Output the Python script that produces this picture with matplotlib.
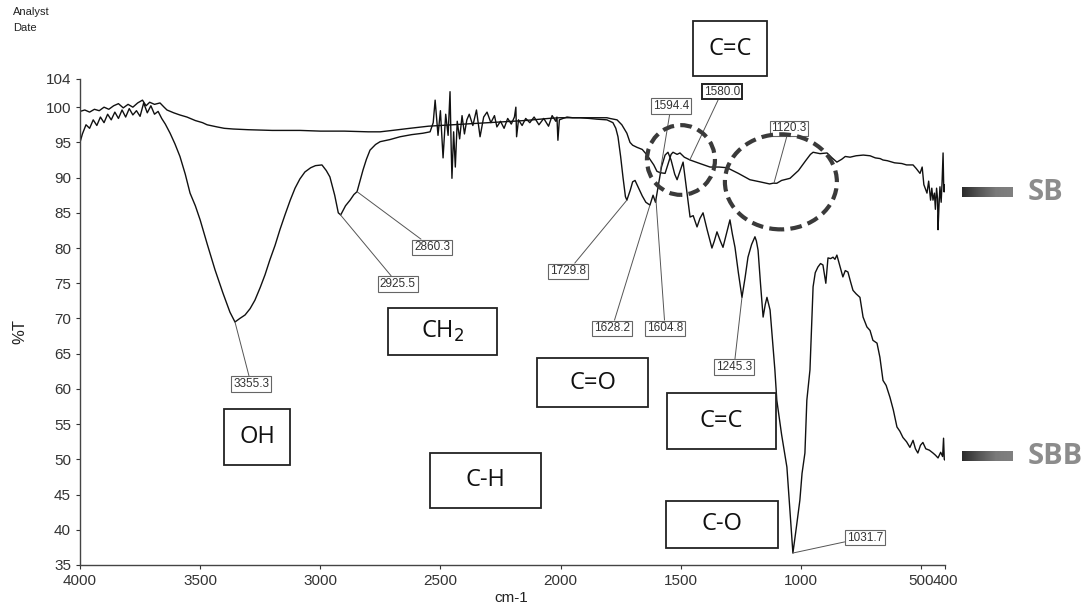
import numpy as np
import matplotlib
matplotlib.use('Agg')
import matplotlib.pyplot as plt
from matplotlib.patches import Rectangle, Ellipse
from matplotlib.colors import LinearSegmentedColormap

plt.rcParams['font.family'] = ['Liberation Sans', 'DejaVu Sans']

# SBB spectrum (lower curve), wavenumber cm-1 / %T
sbb_wn = [4000, 3990, 3975, 3960, 3945, 3930, 3915, 3900, 3885, 3870, 3855, 3840, 3825, 3810,
          3795, 3780, 3765, 3750, 3735, 3720, 3705, 3690, 3675, 3660, 3645, 3625, 3605, 3584,
          3562, 3542, 3520, 3500, 3470, 3438, 3405, 3376, 3355, 3335, 3313, 3292, 3272, 3250,
          3230, 3210, 3188, 3168, 3147, 3125, 3105, 3085, 3064, 3040, 3020, 2993, 2975, 2960,
          2940, 2925, 2915, 2895, 2876, 2860, 2847, 2835, 2822, 2808, 2793, 2770, 2751, 2710,
          2668, 2620, 2573, 2543, 2530, 2522, 2510, 2500, 2489, 2478, 2468, 2460, 2455, 2452,
          2445, 2438, 2430, 2420, 2410, 2400, 2390, 2380, 2365, 2350, 2335, 2320, 2306, 2290,
          2275, 2265, 2250, 2235, 2220, 2205, 2192, 2186, 2183, 2175, 2160, 2145, 2128, 2110,
          2090, 2070, 2050, 2035, 2020, 2015, 2011, 2005, 1990, 1973, 1950, 1919, 1880, 1850,
          1807, 1782, 1770, 1761, 1750, 1740, 1730, 1724, 1710, 1700, 1690, 1675, 1660, 1645,
          1628, 1615, 1605, 1595, 1580, 1565, 1553, 1540, 1525, 1515, 1502, 1490, 1478, 1461,
          1448, 1432, 1420, 1407, 1390, 1370, 1360, 1349, 1335, 1324, 1310, 1295, 1285, 1274,
          1260, 1245, 1232, 1220, 1205, 1191, 1185, 1178, 1168, 1157, 1148, 1141, 1134, 1128,
          1118, 1108, 1100, 1080, 1058, 1045, 1033, 1018, 1004, 995, 983, 975, 962, 949,
          940, 929, 918, 908, 896, 887, 876, 866, 858, 850, 838, 825, 815, 804,
          793, 783, 770, 754, 741, 725, 712, 700, 683, 671, 658, 645, 629, 615,
          600, 588, 575, 560, 546, 533, 523, 513, 502, 492, 480, 465, 450, 440,
          429, 418, 410, 406, 403, 400]
sbb_t = [95.0, 96.2, 97.5, 97.0, 98.2, 97.4, 98.6, 97.8, 99.0, 98.2, 99.3, 98.4, 99.6, 98.6,
         99.8, 98.9, 99.5, 98.7, 100.6, 99.2, 100.2, 99.0, 99.4, 98.4, 97.6, 96.3, 94.8, 93.0,
         90.5, 87.8, 86.0, 84.0, 80.5, 76.9, 73.6, 70.9, 69.5, 70.0, 70.5, 71.4, 72.6, 74.4,
         76.2, 78.3, 80.4, 82.6, 84.7, 86.8, 88.5, 89.8, 90.8, 91.4, 91.7, 91.8, 91.0, 90.1,
         87.5, 85.0, 84.7, 86.0, 86.8, 87.6, 88.0, 89.5, 91.1, 92.6, 93.9, 94.7, 95.1, 95.4,
         95.8, 96.1, 96.3, 96.5, 97.8, 101.0, 96.0, 99.5, 92.8, 99.0, 96.0, 102.2, 94.0, 89.9,
         96.5, 91.5, 98.0, 95.5, 98.8, 96.2, 98.2, 99.0, 97.4, 99.6, 95.8, 98.6, 99.3, 97.8,
         98.8, 97.2, 98.0, 97.0, 98.4, 97.6, 98.6, 100.0, 95.8, 98.2, 97.4, 98.4, 97.8, 98.6,
         97.5, 98.4, 97.3, 98.8, 98.0, 98.6, 95.3, 98.2, 98.4, 98.6, 98.5, 98.5, 98.4, 98.3,
         98.2, 97.8, 97.0, 95.8, 93.0, 90.0, 87.3, 86.8, 88.2, 89.4, 89.6, 88.5, 87.4, 86.5,
         86.1, 87.5, 86.5, 88.5, 91.5, 93.2, 93.6, 92.5, 90.5, 89.7, 91.0, 92.2, 89.0, 84.4,
         84.6, 83.0, 84.2, 85.0, 82.6, 80.0, 81.0, 82.3, 81.0, 80.1, 82.0, 84.0, 82.0, 80.1,
         76.5, 73.0, 75.8, 78.7, 80.5, 81.6, 81.0, 79.7, 75.0, 70.2, 72.0, 73.0, 72.0, 71.2,
         67.0, 62.7, 58.4, 53.5, 48.9, 42.5, 36.7, 40.5, 44.2, 48.0, 50.9, 58.4, 62.7, 74.5,
         76.5, 77.3, 77.8, 77.6, 75.0, 78.6, 78.5, 78.7, 78.4, 79.0, 77.5, 75.9, 76.8, 76.6,
         75.2, 74.0, 73.5, 73.0, 70.2, 68.8, 68.3, 66.9, 66.5, 64.5, 61.2, 60.5, 58.8, 57.0,
         54.6, 54.0, 53.1, 52.5, 51.7, 52.7, 51.5, 50.9, 52.0, 52.4, 51.5, 51.3, 50.9, 50.6,
         50.2, 51.0, 50.4, 53.0, 50.0, 49.9]

# SB spectrum (upper curve)
sb_wn = [4000, 3980, 3960, 3940, 3920, 3900, 3880, 3860, 3840, 3820, 3800, 3780, 3760, 3740,
         3725, 3710, 3690, 3667, 3650, 3638, 3610, 3585, 3555, 3520, 3490, 3471, 3430, 3400,
         3363, 3300, 3200, 3084, 3000, 2900, 2800, 2751, 2700, 2627, 2550, 2450, 2350, 2250,
         2150, 2050, 2002, 1900, 1807, 1795, 1765, 1745, 1724, 1711, 1700, 1682, 1660, 1640,
         1628, 1612, 1599, 1586, 1565, 1552, 1540, 1532, 1515, 1503, 1485, 1461, 1420, 1378,
         1340, 1307, 1260, 1212, 1170, 1130, 1116, 1100, 1080, 1045, 1010, 980, 960, 949,
         920, 891, 870, 850, 830, 815, 795, 770, 740, 712, 690, 670, 658, 640,
         610, 580, 560, 533, 520, 504, 495, 488, 475, 468, 460, 455, 450, 444,
         440, 435, 431, 429, 425, 421, 416, 412, 408, 405, 402, 400]
sb_t = [99.4, 99.6, 99.3, 99.7, 99.5, 100.0, 99.7, 100.2, 100.5, 99.9, 100.4, 100.0, 100.6, 101.0,
        100.2, 100.7, 100.4, 100.6, 100.0, 99.6, 99.2, 98.9, 98.6, 98.1, 97.8, 97.5, 97.2, 97.0,
        96.9, 96.8, 96.7, 96.7, 96.6, 96.6, 96.5, 96.5, 96.7, 97.0, 97.3, 97.5, 97.7, 97.9,
        98.1, 98.4, 98.5, 98.5, 98.5, 98.4, 98.2, 97.5, 96.3, 95.0, 94.6, 94.3, 94.0, 93.2,
        92.6, 91.8, 90.9, 90.7, 90.6, 92.0, 93.3, 93.6, 93.3, 93.5, 92.9, 92.5, 92.0, 91.5,
        91.5, 91.4, 90.6, 89.7, 89.4, 89.1, 89.2, 89.2, 89.6, 89.9, 91.0, 92.4, 93.3, 93.6,
        93.4, 93.5, 92.8, 92.2, 92.6, 93.0, 92.9, 93.1, 93.2, 93.1, 92.8, 92.7, 92.5, 92.4,
        92.1, 92.0, 91.8, 91.8, 91.3, 90.6, 91.5, 89.0, 87.8, 89.5, 86.8, 88.5, 86.8, 87.8,
        85.5, 88.5, 87.0, 82.6, 86.0, 88.7, 86.5, 89.5, 93.5, 88.0, 89.0, 88.0]

# peak labels: text, curve, wavenumber the leader points at, label centre (cm-1, %T)
peak_text = ['3355.3', '2925.5', '2860.3', '1729.8', '1628.2', '1604.8', '1245.3',
             '1594.4', '1580.0', '1120.3', '1031.7']
peak_curve = ['SBB', 'SBB', 'SBB', 'SBB', 'SBB', 'SBB', 'SBB', 'SB', 'SB', 'SB', 'SBB']
peak_tip = [3355, 2918, 2847, 1724, 1628, 1603, 1245, 1586, 1462, 1112, 1033]
peak_lab_x = [3288, 2677, 2535, 1969, 1786, 1565, 1278, 1540, 1328, 1049, 733]
peak_lab_y = [60.7, 74.9, 80.1, 76.7, 68.6, 68.6, 63.1, 100.2, 102.2, 97.0, 38.9]

# functional group boxes: text, x range (cm-1), y range (%T)
group_text = ['C=C', 'CH$_2$', 'OH', 'C=O', 'C-H', 'C=C', 'C-O']
group_x = [(1449, 1141), (2718, 2265), (3401, 3126), (2098, 1636), (2543, 2081), (1557, 1103), (1561, 1095)]
group_y = [(104.4, 112.2), (64.8, 71.5), (49.2, 57.1), (57.4, 64.4), (43.1, 50.9), (51.4, 59.4), (37.4, 44.1)]

# dashed circles: centre, width, height
ring_xy = [(1499, 92.5), (1083, 89.4)]
ring_w = [283, 466]
ring_h = [9.9, 13.5]

fig = plt.figure(figsize=(10.91, 6.05), dpi=100)
ax = fig.add_axes([80/1091, 1-565/605, 865/1091, 486/605])

ax.plot(sb_wn, sb_t, color='#111111', lw=1.0)
ax.plot(sbb_wn, sbb_t, color='#111111', lw=1.0)

ax.set_xlim(4000, 400)
ax.set_ylim(35, 104)
ax.set_xticks([4000, 3500, 3000, 2500, 2000, 1500, 1000, 500, 400])
ax.set_yticks(list(range(35, 101, 5)) + [104])
ax.tick_params(labelsize=11, colors='#333333', length=3, width=0.8)
for s in ['top', 'right']:
    ax.spines[s].set_visible(False)
for s in ['left', 'bottom']:
    ax.spines[s].set_color('#444444')
    ax.spines[s].set_linewidth(1.0)

curves = {'SB': (sb_wn[::-1], sb_t[::-1]), 'SBB': (sbb_wn[::-1], sbb_t[::-1])}
for txt, c, tip, lx, ly in zip(peak_text, peak_curve, peak_tip, peak_lab_x, peak_lab_y):
    ty = np.interp(tip, curves[c][0], curves[c][1])
    # the 1580.0 box is drawn with a heavier frame in the original
    edge = ('#222222', 1.4) if txt == '1580.0' else ('#666666', 0.8)
    ax.annotate(txt, xy=(tip, ty), xytext=(lx, ly), ha='center', va='center',
                fontsize=8.5, color='#333333', annotation_clip=False,
                bbox=dict(boxstyle='square,pad=0.15', fc='white', ec=edge[0], lw=edge[1]),
                arrowprops=dict(arrowstyle='-', color='#555555', lw=0.7, shrinkA=0, shrinkB=0))

for txt, (x0, x1), (y0, y1) in zip(group_text, group_x, group_y):
    ax.add_patch(Rectangle((min(x0, x1), y0), abs(x1 - x0), y1 - y0, fill=True, fc='white',
                           ec='#222222', lw=1.3, clip_on=False, zorder=4))
    ax.text((x0 + x1) / 2, (y0 + y1) / 2, txt, ha='center', va='center', fontsize=17,
            family='Open Sans', color='#111111', zorder=5, clip_on=False)

for (cx, cy), w, h in zip(ring_xy, ring_w, ring_h):
    ax.add_patch(Ellipse((cx, cy), w, h, fill=False, ec='#3a3a3a', lw=3,
                         ls=(0, (2.8, 1.5)), zorder=6))

fig.text(13/1091, 1-12/605, 'Analyst', fontsize=8, va='center', color='#222222')
fig.text(13/1091, 1-28/605, 'Date', fontsize=8, va='center', color='#222222')
fig.text(20/1091, 1-332/605, '%T', fontsize=12, rotation=90, ha='center', va='center', color='#222222')
fig.text(511/1091, 1-598/605, 'cm-1', fontsize=11, ha='center', va='center', color='#222222')

# legend bars with dark to grey gradient
cmap = LinearSegmentedColormap.from_list('bar', ['#2b2b2b', '#555555', '#7a7a7a', '#808080'])
legend_names = ['SB', 'SBB']
legend_y = [192, 456]
for name, py in zip(legend_names, legend_y):
    bax = fig.add_axes([962/1091, 1-(py+5)/605, 51/1091, 10/605])
    bax.imshow(np.linspace(0, 1, 100)[None, :], cmap=cmap, aspect='auto')
    bax.axis('off')
    fig.text(1028/1091, 1-(py+1)/605, name, fontsize=21, family='Open Sans', weight='bold',
             color='#8c8c8c', va='center')

fig.savefig('out.png', dpi=100)
